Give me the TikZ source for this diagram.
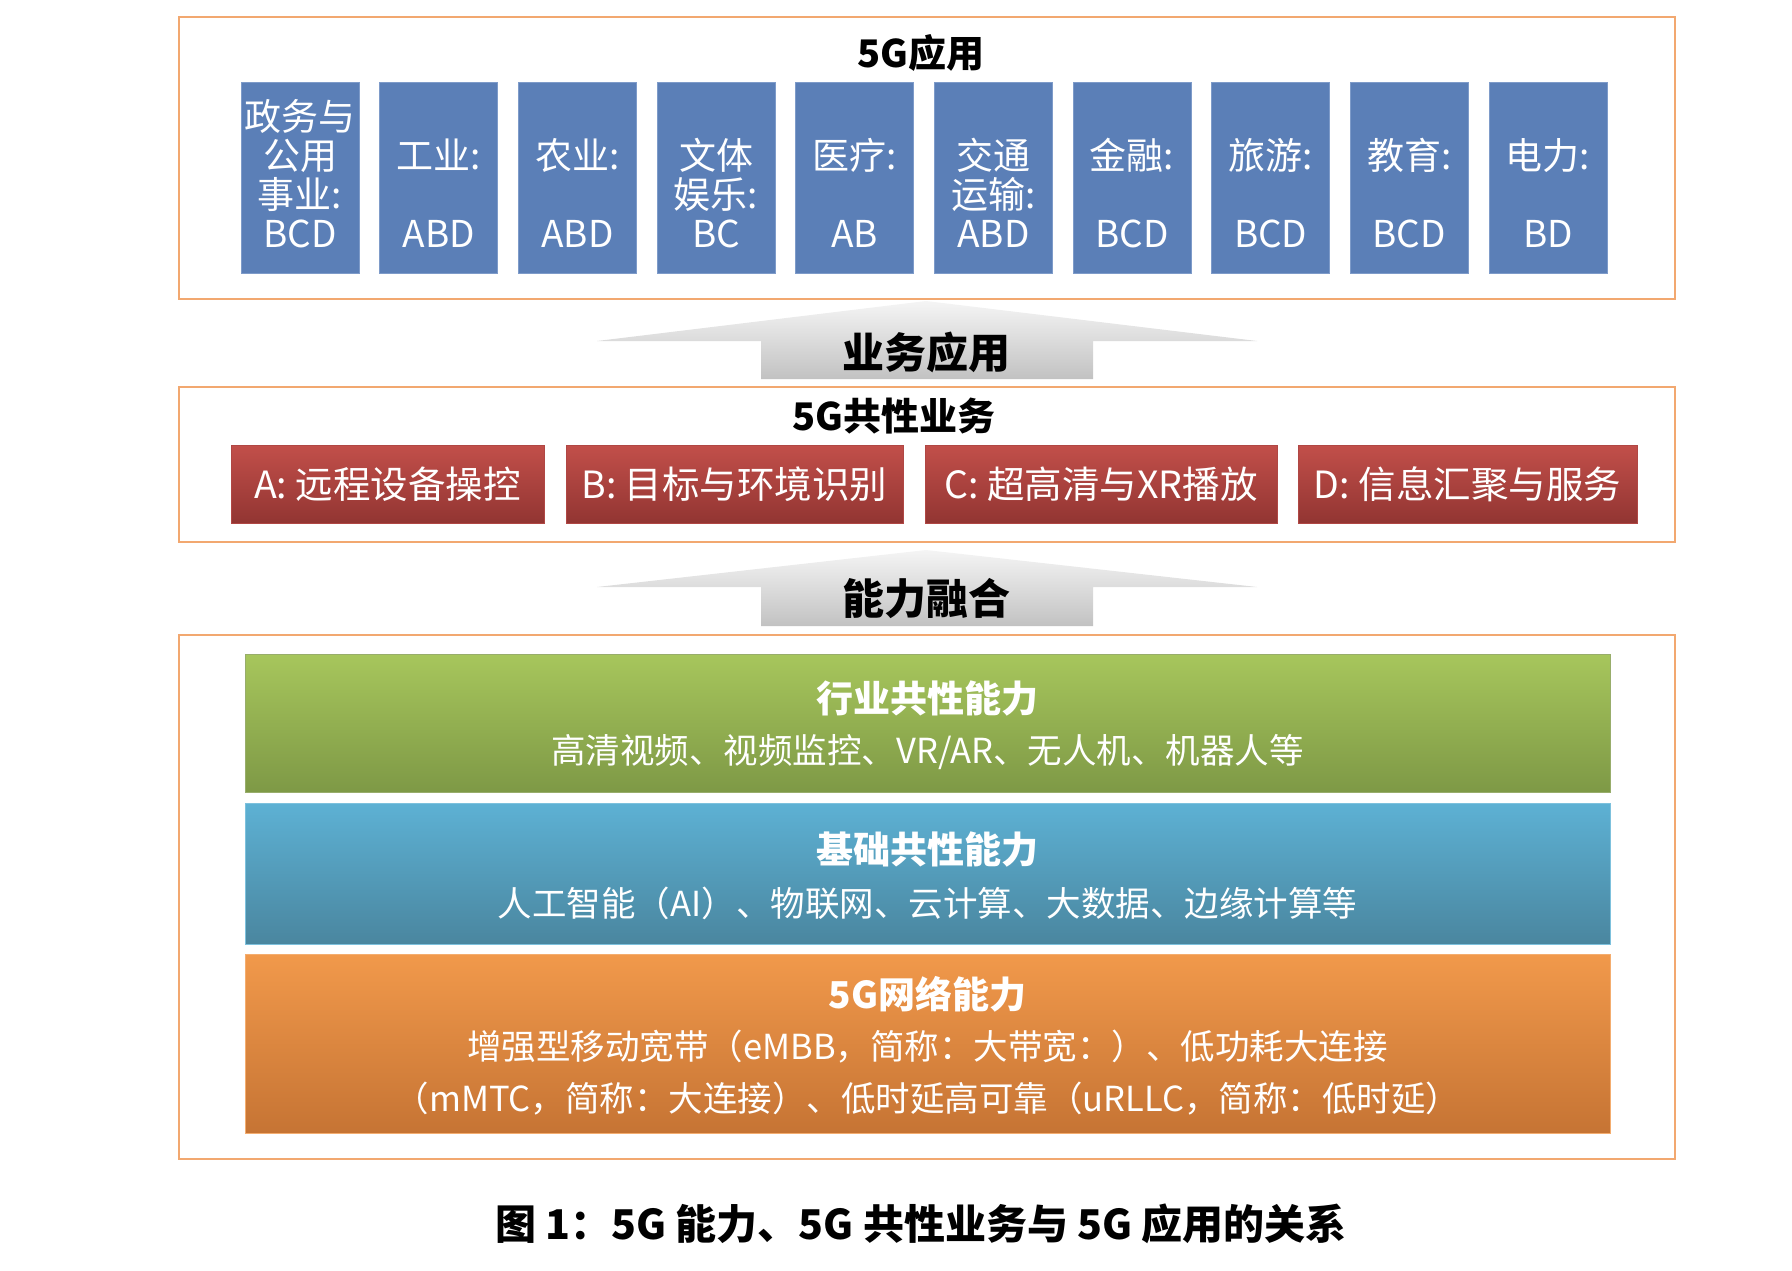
\documentclass[tikz,border=0pt]{standalone}
\usepackage{fontspec}
\setmainfont{Noto Sans CJK SC}
\usetikzlibrary{positioning}
\definecolor{frameor}{HTML}{F2A870}
\definecolor{appblue}{HTML}{5B7FB7}
\definecolor{appblueedge}{HTML}{7E9BC9}
\definecolor{redtop}{HTML}{C24F4A}
\definecolor{redbot}{HTML}{923532}
\definecolor{rededge}{HTML}{B04744}
\definecolor{greentop}{HTML}{A7C65C}
\definecolor{greenbot}{HTML}{7E9946}
\definecolor{bluetop}{HTML}{5DB1D4}
\definecolor{bluebot}{HTML}{4A869F}
\definecolor{orangetop}{HTML}{F1994B}
\definecolor{orangebot}{HTML}{C67434}
\tikzset{
  frame/.style={draw=frameor, line width=1.5pt, fill=white, minimum width=1496pt, inner sep=0pt},
  appbox/.style={draw=appblueedge, line width=1pt, fill=appblue, minimum width=118pt, minimum height=190pt, inner sep=0pt},
  apptext/.style={text=white, align=center, inner sep=0pt, anchor=south, font=\fontsize{37}{39}\selectfont},
  svcbox/.style={draw=rededge, line width=1pt, top color=redtop, bottom color=redbot, minimum height=78pt, inner sep=0pt, text=white, font=\fontsize{37.5}{40}\selectfont},
  layer/.style={minimum width=1365pt, inner sep=0pt, draw=#1!80!white, line width=1pt},
  ttl/.style={font=\bfseries\fontsize{38}{42}\selectfont, inner sep=0pt},
  lyttl/.style={font=\bfseries\fontsize{37}{42}\selectfont, text=white, inner sep=0pt},
  lytxt/.style={font=\fontsize{34.5}{40}\selectfont, text=white, inner sep=0pt},
  bigarrow/.style={top color=gray!8, bottom color=gray!48},
  arrowlbl/.style={font=\bfseries\fontsize{42}{46}\selectfont, inner sep=0pt}
}
\begin{document}
\begin{tikzpicture}[x=1pt,y=-1pt]
\useasboundingbox (0,0) rectangle (1792,1271);

% ---------- top frame: 5G applications
\node[frame, minimum height=282pt] (topframe) at (927,158) {};
\node[ttl] (apptitle) at (921,53) {5G应用};
\foreach \i/\txt in {0/{政务与\\公用\\事业:\\BCD},1/{工业:\\[39pt]ABD},2/{农业:\\[39pt]ABD},3/{文体\\娱乐:\\BC},4/{医疗:\\[39pt]AB},5/{交通\\运输:\\ABD},6/{金融:\\[39pt]BCD},7/{旅游:\\[39pt]BCD},8/{教育:\\[39pt]BCD},9/{电力:\\[39pt]BD}}{
  \node[appbox] (app\i) at ({300+138.67*\i},178) {};
  \node[apptext] (apptxt\i) at ({300+138.67*\i},248) {\txt};
}

% ---------- arrow 1
\shade[bigarrow] (761,379) -- (761,341) -- (597,341) -- (926,301) -- (1257,341) -- (1093,341) -- (1093,379) -- cycle;
\node[arrowlbl] (arrow1lbl) at (926,352) {业务应用};

% ---------- middle frame: common services
\node[frame, minimum height=155pt] (midframe) at (927,464.5) {};
\node[ttl] (svctitle) at (894,416) {5G共性业务};
\node[svcbox, minimum width=313pt] (svcA) at (387.5,484) {A: 远程设备操控};
\node[svcbox, minimum width=337pt] (svcB) at (734.5,484) {B: 目标与环境识别};
\node[svcbox, minimum width=352pt] (svcC) at (1101,484) {C: 超高清与XR播放};
\node[svcbox, minimum width=339pt] (svcD) at (1467.5,484) {D: 信息汇聚与服务};

% ---------- arrow 2
\shade[bigarrow] (761,626) -- (761,587) -- (597,587) -- (926,550) -- (1257,587) -- (1093,587) -- (1093,626) -- cycle;
\node[arrowlbl] (arrow2lbl) at (926,599) {能力融合};

% ---------- bottom frame: capabilities
\node[frame, minimum height=524pt] (botframe) at (927,897) {};
\node[layer=greenbot, minimum height=138pt, top color=greentop, bottom color=greenbot] (green) at (927.5,723) {};
\node[lyttl] (greenttl) at (927.5,698) {行业共性能力};
\node[lytxt] (greentxt) at (927.5,752) {高清视频、视频监控、VR/AR、无人机、机器人等};

\node[layer=bluetop, minimum height=141pt, top color=bluetop, bottom color=bluebot] (blue) at (927.5,873.5) {};
\node[lyttl] (bluettl) at (927.5,849) {基础共性能力};
\node[lytxt] (bluetxt) at (927.5,903) {人工智能（AI）、物联网、云计算、大数据、边缘计算等};

\node[layer=orangetop, minimum height=179pt, top color=orangetop, bottom color=orangebot] (orange) at (927.5,1043.5) {};
\node[lyttl] (orangettl) at (927.5,994) {5G网络能力};
\node[lytxt] (orangetxt1) at (927.5,1047) {增强型移动宽带（eMBB，简称：大带宽：）、低功耗大连接};
\node[lytxt] (orangetxt2) at (927.5,1099) {（mMTC，简称：大连接）、低时延高可靠（uRLLC，简称：低时延）};

% ---------- caption
\node[font=\bfseries\fontsize{41}{46}\selectfont, inner sep=0pt] (caption) at (921,1224) {图 1：5G 能力、5G 共性业务与 5G 应用的关系};
\end{tikzpicture}
\end{document}
